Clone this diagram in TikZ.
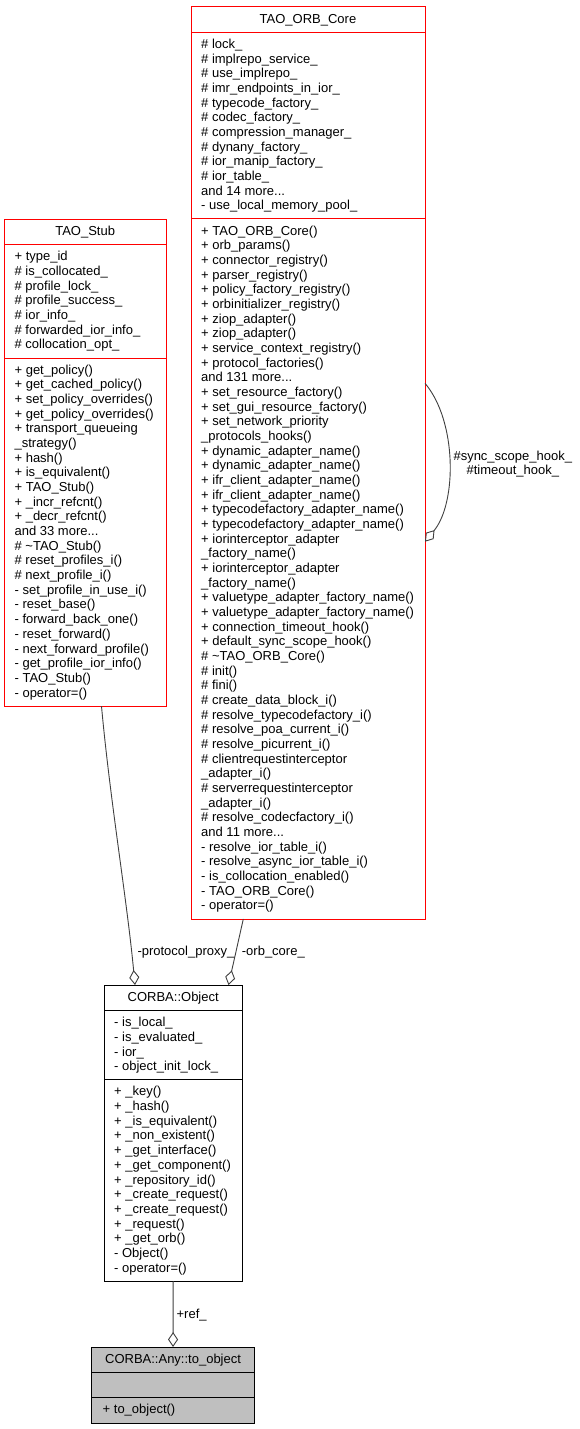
\documentclass[tikz,border=0pt]{standalone}
\usepackage{fontspec}
\setmainfont{Liberation Sans}
\usetikzlibrary{arrows.meta}
\definecolor{edgegray}{HTML}{404040}
\definecolor{boxgray}{HTML}{BFBFBF}
\definecolor{boxred}{HTML}{FF0000}
\newcommand\memfont{\fontsize{13}{14.67}\selectfont}
\newcommand\lblfont{\fontsize{13}{13.3}\selectfont}
\begin{document}
\begin{tikzpicture}[x=1pt,y=-1pt,
  compart/.style={draw=black, line width=1pt, rectangle, inner sep=0pt, outer sep=0pt, anchor=north west},
  redline/.style={draw=boxred},
  grayfill/.style={fill=boxgray},
  titletext/.style={anchor=base, inner sep=0pt, font=\memfont},
  memtext/.style={anchor=north west, inner sep=0pt, align=left, font=\memfont},
  lbltext/.style={inner sep=0pt, font=\memfont},
  edge/.style={draw=edgegray, line width=0.9pt},
  agg/.style={-{Diamond[open, length=15pt, width=10pt, line width=0.9pt]}}
]
\fill[white] (0,0) rectangle (579,1429);
\useasboundingbox (0,0) rectangle (579,1429);

% ---------------- TAO_ORB_Core ----------------
\node[compart, redline, minimum width=234pt, minimum height=25.5pt] (orbtitle) at (191,6.7) {};
\node[compart, redline, minimum width=234pt, minimum height=186.7pt] (orbattr) at (191,32.2) {};
\node[compart, redline, minimum width=234pt, minimum height=700.1pt] (orbops) at (191,218.9) {};
\node[titletext] (orbname) at ([yshift=-16.6pt]orbtitle.north) {TAO\_ORB\_Core};
\node[memtext] (orbattrtext) at ([xshift=10pt,yshift=-5.7pt]orbattr.north west) {\strut\# lock\_\\
\# implrepo\_service\_\\
\# use\_implrepo\_\\
\# imr\_endpoints\_in\_ior\_\\
\# typecode\_factory\_\\
\# codec\_factory\_\\
\# compression\_manager\_\\
\# dynany\_factory\_\\
\# ior\_manip\_factory\_\\
\# ior\_table\_\\
and 14 more...\\
- use\_local\_memory\_pool\_};
\node[memtext] (orbopstext) at ([xshift=10pt,yshift=-5.7pt]orbops.north west) {\strut+ TAO\_ORB\_Core()\\
+ orb\_params()\\
+ connector\_registry()\\
+ parser\_registry()\\
+ policy\_factory\_registry()\\
+ orbinitializer\_registry()\\
+ ziop\_adapter()\\
+ ziop\_adapter()\\
+ service\_context\_registry()\\
+ protocol\_factories()\\
and 131 more...\\
+ set\_resource\_factory()\\
+ set\_gui\_resource\_factory()\\
+ set\_network\_priority\\
\_protocols\_hooks()\\
+ dynamic\_adapter\_name()\\
+ dynamic\_adapter\_name()\\
+ ifr\_client\_adapter\_name()\\
+ ifr\_client\_adapter\_name()\\
+ typecodefactory\_adapter\_name()\\
+ typecodefactory\_adapter\_name()\\
+ iorinterceptor\_adapter\\
\_factory\_name()\\
+ iorinterceptor\_adapter\\
\_factory\_name()\\
+ valuetype\_adapter\_factory\_name()\\
+ valuetype\_adapter\_factory\_name()\\
+ connection\_timeout\_hook()\\
+ default\_sync\_scope\_hook()\\
\# \textasciitilde TAO\_ORB\_Core()\\
\# init()\\
\# fini()\\
\# create\_data\_block\_i()\\
\# resolve\_typecodefactory\_i()\\
\# resolve\_poa\_current\_i()\\
\# resolve\_picurrent\_i()\\
\# clientrequestinterceptor\\
\_adapter\_i()\\
\# serverrequestinterceptor\\
\_adapter\_i()\\
\# resolve\_codecfactory\_i()\\
and 11 more...\\
- resolve\_ior\_table\_i()\\
- resolve\_async\_ior\_table\_i()\\
- is\_collocation\_enabled()\\
- TAO\_ORB\_Core()\\
- operator=()};

% ---------------- TAO_Stub ----------------
\node[compart, redline, minimum width=161.6pt, minimum height=25.5pt] (stubtitle) at (4.4,219.3) {};
\node[compart, redline, minimum width=161.6pt, minimum height=113.3pt] (stubattr) at (4.4,244.8) {};
\node[compart, redline, minimum width=161.6pt, minimum height=348pt] (stubops) at (4.4,358.1) {};
\node[titletext] (stubname) at ([yshift=-16.6pt]stubtitle.north) {TAO\_Stub};
\node[memtext] (stubattrtext) at ([xshift=10pt,yshift=-5.7pt]stubattr.north west) {\strut+ type\_id\\
\# is\_collocated\_\\
\# profile\_lock\_\\
\# profile\_success\_\\
\# ior\_info\_\\
\# forwarded\_ior\_info\_\\
\# collocation\_opt\_};
\node[memtext] (stubopstext) at ([xshift=10pt,yshift=-5.7pt]stubops.north west) {\strut+ get\_policy()\\
+ get\_cached\_policy()\\
+ set\_policy\_overrides()\\
+ get\_policy\_overrides()\\
+ transport\_queueing\\
\_strategy()\\
+ hash()\\
+ is\_equivalent()\\
+ TAO\_Stub()\\
+ \_incr\_refcnt()\\
+ \_decr\_refcnt()\\
and 33 more...\\
\# \textasciitilde TAO\_Stub()\\
\# reset\_profiles\_i()\\
\# next\_profile\_i()\\
- set\_profile\_in\_use\_i()\\
- reset\_base()\\
- forward\_back\_one()\\
- reset\_forward()\\
- next\_forward\_profile()\\
- get\_profile\_ior\_info()\\
- TAO\_Stub()\\
- operator=()};

% ---------------- CORBA::Object ----------------
\node[compart, minimum width=138.4pt, minimum height=25.5pt] (objtitle) at (104,985) {};
\node[compart, minimum width=138.4pt, minimum height=69.3pt] (objattr) at (104,1010.5) {};
\node[compart, minimum width=138.4pt, minimum height=201.3pt] (objops) at (104,1079.8) {};
\node[titletext] (objname) at ([yshift=-16.6pt]objtitle.north) {CORBA::Object};
\node[memtext] (objattrtext) at ([xshift=10pt,yshift=-5.7pt]objattr.north west) {\strut- is\_local\_\\
- is\_evaluated\_\\
- ior\_\\
- object\_init\_lock\_};
\node[memtext] (objopstext) at ([xshift=10pt,yshift=-5.7pt]objops.north west) {\strut+ \_key()\\
+ \_hash()\\
+ \_is\_equivalent()\\
+ \_non\_existent()\\
+ \_get\_interface()\\
+ \_get\_component()\\
+ \_repository\_id()\\
+ \_create\_request()\\
+ \_create\_request()\\
+ \_request()\\
+ \_get\_orb()\\
- Object()\\
- operator=()};

% ---------------- CORBA::Any::to_object ----------------
\node[compart, grayfill, minimum width=163.1pt, minimum height=25.5pt] (totitle) at (91.5,1347) {};
\node[compart, grayfill, minimum width=163.1pt, minimum height=25.3pt] (toattr) at (91.5,1372.5) {};
\node[compart, grayfill, minimum width=163.1pt, minimum height=25.3pt] (toops) at (91.5,1397.8) {};
\node[titletext] (toname) at ([yshift=-16.6pt]totitle.north) {CORBA::Any::to\_object};
\node[memtext] (toopstext) at ([xshift=11pt,yshift=-5.7pt]toops.north west) {\strut+ to\_object()};

% ---------------- connectors ----------------
\draw[edge, agg] ([xshift=16.3pt]stubops.south) .. controls (110,800) and (127,900) .. ([xshift=-38.2pt]objtitle.north);
\draw[edge, agg] ([xshift=-64.7pt]orbops.south) -- ([xshift=55.3pt]objtitle.north);
\draw[edge, agg] (objops.south) -- (totitle.north);
\draw[edge, agg] ([yshift=-164.4pt]orbops.north east) .. controls (457,421) and (457,502.6) .. ([yshift=-322.8pt]orbops.north east);

% ---------------- labels ----------------
\node[lbltext, anchor=base west] (lblproxy) at (137.3,955) {-protocol\_proxy\_};
\node[lbltext, anchor=base west] (lblorbcore) at (241.7,955) {-orb\_core\_};
\node[lbltext, anchor=base west] (lblref) at (176.4,1318.3) {+ref\_};
\node[anchor=north, inner sep=0pt, align=center, font=\lblfont] (lblhooks) at (512.8,450.7) {\strut\#sync\_scope\_hook\_\\\#timeout\_hook\_};
\end{tikzpicture}
\end{document}
